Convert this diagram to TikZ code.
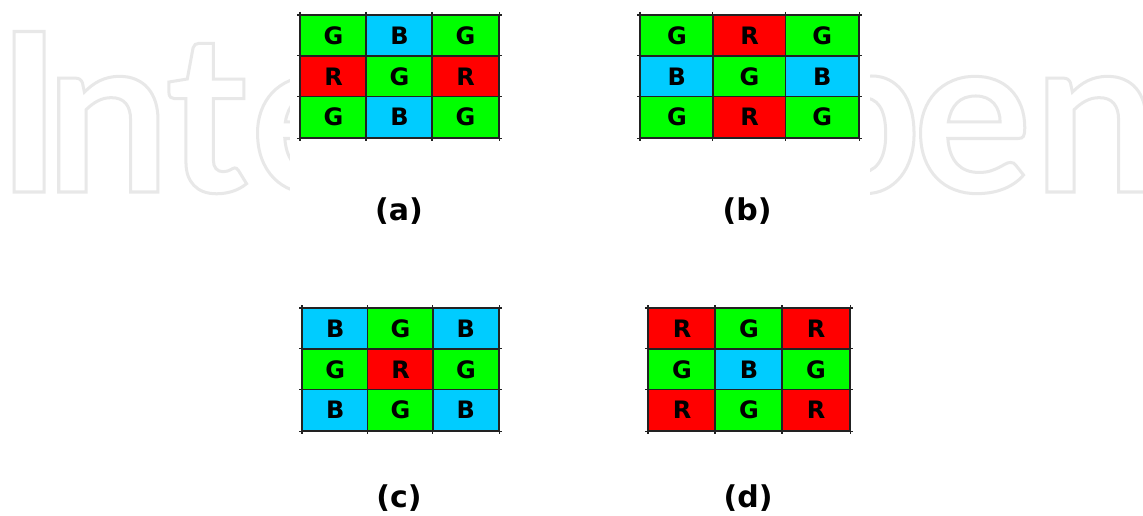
\documentclass[tikz,border=0pt]{standalone}
\usepackage{fontspec}
\newfontfamily\cellfont{DejaVu Sans}
\newfontfamily\wmfont{Lato}
\definecolor{bayerR}{HTML}{FF0000}
\definecolor{bayerG}{HTML}{00FF00}
\definecolor{bayerB}{HTML}{00CCFF}
\definecolor{gridline}{HTML}{222222}
\definecolor{wmgray}{HTML}{E8E8E8}
\tikzset{
  cellbase/.style={draw=gridline, line width=1.1pt, inner sep=0pt, anchor=north west,
    font=\cellfont\bfseries\fontsize{24}{24}\selectfont, text=black},
  cellR/.style={cellbase, fill=bayerR},
  cellG/.style={cellbase, fill=bayerG},
  cellB/.style={cellbase, fill=bayerB},
  tickline/.style={draw=gridline, line width=1.1pt, shorten <=-3pt, shorten >=-3pt},
  caption/.style={inner sep=0pt, font=\cellfont\bfseries\fontsize{30}{30}\selectfont},
  wm/.style={inner sep=0pt, anchor=base west, text=wmgray, font=\wmfont\bfseries\fontsize{222}{222}\selectfont},
}
% #1 name, #2 x0, #3 y0, #4 cell width, #5 cell height, #6 nine letters
\newcommand\bayergrid[6]{%
  \foreach \c [count=\i from 0] in {#6} {
    \pgfmathtruncatemacro\rr{int(\i/3)}
    \pgfmathtruncatemacro\kk{mod(\i,3)}
    \node[cell\c, minimum width=#4, minimum height=#5] (#1-\i) at ({#2+\kk*#4},{#3+\rr*#5}) {\c};
  }
  \draw[tickline] (#1-0.north west) -- (#1-6.south west);
  \draw[tickline] (#1-1.north west) -- (#1-7.south west);
  \draw[tickline] (#1-2.north west) -- (#1-8.south west);
  \draw[tickline] (#1-2.north east) -- (#1-8.south east);
  \draw[tickline] (#1-0.north west) -- (#1-2.north east);
  \draw[tickline] (#1-3.north west) -- (#1-5.north east);
  \draw[tickline] (#1-6.north west) -- (#1-8.north east);
  \draw[tickline] (#1-6.south west) -- (#1-8.south east);
}
\begin{document}
\begin{tikzpicture}[x=1pt,y=-1pt]
\useasboundingbox (0,0) rectangle (1143,516);
\fill[white] (0,0) rectangle (1143,516);
% watermark
\special{pdf:literal direct 1 Tr 3 w}
\node[wm] (wmI) at (-4,192) {I};
\node[wm] (wmn) at (45,192) {n};
\node[wm] (wmt) at (165,192) {t};
\node[wm] (wme) at (250,192) {e};
\node[wm, anchor=base east] (wmp) at (922,192) {p};
\node[wm] (wme2) at (913,192) {e};
\node[wm] (wmn2) at (1033,192) {n};
\special{pdf:literal direct 0 Tr}
\fill[white] (290,0) rectangle (870,516);
% grids
\bayergrid{a}{300}{15}{66}{40.67}{G,B,G,R,G,R,G,B,G}
\bayergrid{b}{640}{15}{72.67}{40.67}{G,R,G,B,G,B,G,R,G}
\bayergrid{c}{302}{308}{65.33}{40.67}{B,G,B,G,R,G,B,G,B}
\bayergrid{d}{648}{308}{67}{40.67}{R,G,R,G,B,G,R,G,R}
% captions
\node[caption] (capa) at (399,211) {(a)};
\node[caption] (capb) at (747,211) {(b)};
\node[caption] (capc) at (399,498) {(c)};
\node[caption] (capd) at (748,498) {(d)};
\end{tikzpicture}
\end{document}
